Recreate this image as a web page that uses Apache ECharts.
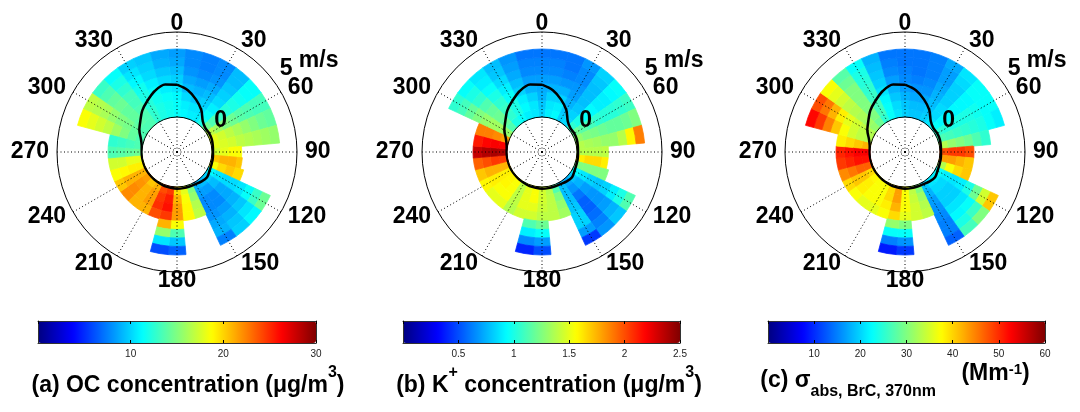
<!DOCTYPE html>
<html><head><meta charset="utf-8">
<script src="https://cdn.jsdelivr.net/npm/echarts@6/dist/echarts.min.js"></script>
<style>html,body{margin:0;padding:0;background:#fff}#c{width:1080px;height:412px}</style>
</head><body><div id="c"></div>
<script>
// wind direction bins (degrees, bin centres)
const directions = [0,10,20,30,40,50,60,70,80,90,100,110,120,130,140,150,160,170,180,190,200,210,220,230,240,250,260,270,280,290,300,310,320,330,340,350];
// wind-speed ring width (m/s)
const ringStep = 0.5;
// black contour (m/s) per direction
const windCurve = [1.9,1.63,1.22,0.8,0.3,0.12,0.13,0.12,0.08,0.06,0.08,0.1,0.15,0.25,0.2,0.12,0.1,0.1,0.1,0.08,0.08,0.05,0.04,0.03,0.03,0.02,0.02,0.02,0.05,0.2,0.5,0.76,1.12,1.42,1.76,1.97];

// maximum wind speed with data per direction (m/s)
const ocExtent  = [4,4,4,4,4,4,4,4,4,1.75,1.8,2,4,4,4,4,2,2,4,4,2,2,2,2,2,2,2,2,2,4,4,4,4,4,4,4];
const kExtent   = [4,4,4,4,4,4,4,4,4,1.85,1.85,2,4,4,4,4,2,2,4,4,2,2,2,2,2,2,2,2,2,2,4,4,4,4,4,4];
const absExtent = [4,4,4,4,4,4,4,4,3,2,2,2,4,4,4,4,2,2,4,4,2,2,2,2,2,2,2,2,2,4,4,4,4,4,4,4];

// OC concentration (ug/m3): rows = direction, cols = speed rings 0-0.5, 0.5-1, ...
const ocGrid = [
[11.4,11.4,11.1,10.5,9.9,9.3,8.7,8.4],
[11.1,10.8,10.2,9.3,8.7,8.1,7.8,7.8],
[10.8,10.5,9.6,9,8.4,7.8,7.5,7.5],
[10.8,10.5,9.9,9.3,8.7,8.1,7.8,7.8],
[12,11.4,10.8,10.2,9.9,9.6,9.3,9.3],
[14.4,13.5,12.9,12.3,12,11.7,11.4,11.4],
[16.8,15.9,15,14.4,13.8,13.5,13.2,13.2],
[18,17.4,16.8,16.2,15.6,15,14.4,14.1],
[18,17.7,17.4,16.8,16.5,16.2,15.9,15.6],
[17.4,18,18.6,18.6],
[20.4,21,21,20.4],
[18.6,19.8,20.4,19.8],
[11.1,10.5,10.2,10.2,10.5,11.4,12.9,14.4],
[9.9,9.3,8.7,8.7,9,9.6,10.5,11.1],
[9.3,8.4,7.8,7.8,8.4,9,9.6,9.9],
[9,8.4,7.8,7.8,8.1,8.7,9,7.5],
[15,15.6,16.5,16.8],
[18,18.6,18.9,18.9],
[19.8,21,21.6,21.6,18.6,13.5,9.6,6.6],
[24.6,25.5,25.8,24.6,21,15.6,10.5,6],
[24,24.6,24.9,24],
[21,21.6,21.6,21],
[20.4,21,21,21],
[21.6,21.9,22.2,22.2],
[21,21,21,20.4],
[19.2,19.2,18.9,18.6],
[18,18,17.4,17.4],
[14.4,14.1,13.8,13.5],
[13.5,13.2,12.9,12.6],
[13.5,14.1,15,15.9,16.8,17.4,18,18.6],
[13.5,14.1,14.7,15,15.6,16.2,16.5,16.8],
[13.5,13.8,14.1,14.1,14.4,14.1,13.5,12.9],
[13.5,13.5,13.5,13.2,13.2,12.6,12,11.4],
[12.6,12.6,12.3,12,11.7,11.1,10.5,9.9],
[12,12,11.7,11.4,10.8,10.2,9.9,9.6],
[11.7,11.7,11.4,10.8,10.2,9.6,9,8.7]
];

// K+ concentration (ug/m3)
const kGrid = [
[0.83,0.8,0.75,0.73,0.7,0.65,0.63,0.6],
[0.9,0.88,0.83,0.75,0.7,0.65,0.63,0.6],
[0.93,0.9,0.83,0.75,0.68,0.63,0.6,0.6],
[0.83,0.8,0.75,0.7,0.68,0.65,0.65,0.68],
[0.85,0.83,0.8,0.78,0.78,0.78,0.8,0.83],
[1.05,1,0.95,0.93,0.9,0.9,0.93,0.95],
[1.2,1.15,1.1,1.05,1.03,1.03,1.05,1.08],
[1.3,1.25,1.23,1.2,1.18,1.18,1.2,1.25],
[1.38,1.35,1.33,1.3,1.3,1.38,1.58,1.88],
[1.38,1.38,1.38,1.4],
[1.6,1.65,1.65,1.6],
[1.25,1.25,1.25,1.25],
[0.93,0.88,0.83,0.8,0.83,0.9,1,1.13],
[0.8,0.75,0.7,0.68,0.68,0.7,0.75,0.8],
[0.73,0.68,0.6,0.55,0.55,0.58,0.63,0.68],
[0.78,0.78,0.78,0.8,0.83,0.83,0.7,0.45],
[1.13,1.25,1.3,1.33],
[1.38,1.4,1.4,1.4],
[1.45,1.45,1.43,1.4,1.2,0.95,0.7,0.5],
[1.55,1.55,1.5,1.45,1.13,0.9,0.65,0.4],
[1.5,1.5,1.5,1.45],
[1.4,1.4,1.4,1.38],
[1.55,1.55,1.55,1.5],
[1.58,1.58,1.55,1.5],
[1.6,1.6,1.6,1.58],
[1.75,1.75,1.75,1.7],
[2.05,2.05,2,1.95],
[2.38,2.4,2.38,2.33],
[2.2,2.2,2.18,2.13],
[1.8,1.85,1.88,1.88],
[1.3,1.33,1.33,1.3,1.25,1.18,1.1,1.05],
[1.13,1.18,1.2,1.18,1.13,1.05,1,0.95],
[1,1.05,1.08,1.05,1,0.95,0.9,0.88],
[0.95,1,1,0.95,0.9,0.85,0.8,0.78],
[0.9,0.93,0.9,0.83,0.78,0.73,0.7,0.68],
[0.88,0.88,0.83,0.75,0.7,0.65,0.63,0.6]
];

// sigma_abs BrC 370nm (Mm-1)
const absGrid = [
[19.8,19.2,18,16.8,15.6,15,14.4,14.4],
[19.2,18.6,17.4,16.2,15,14.4,14.4,14.4],
[19.2,18.6,17.4,16.2,15.6,15,15,15],
[19.8,19.2,18.6,18,17.4,16.8,16.8,17.4],
[21,20.4,20.4,19.8,19.8,19.8,20.4,21],
[22.8,22.2,22.2,22.2,22.2,22.2,22.8,22.8],
[25.2,24.6,24,24,24,23.4,22.8,22.8],
[27,26.4,25.8,25.2,24.6,24,22.8,21.6],
[33,31.2,30,28.8,27,25.2],
[48,49.2,49.2,48],
[43.2,43.2,42,40.8],
[33,37.2,39.6,40.8],
[22.8,21.6,21,21.6,24,28.8,34.8,40.8],
[21.6,20.4,19.8,19.8,21,22.8,25.8,30],
[21,20.4,19.8,19.8,21,22.2,24,26.4],
[19.2,18,16.8,16.2,15.6,15,15,13.2],
[30,31.8,33,33.6],
[33.6,34.2,34.8,34.8],
[37.2,37.2,37.2,36,30,22.8,16.2,10.8],
[43.2,43.2,42,39.6,31.2,22.8,15,9],
[39.6,39.6,38.4,37.2],
[37.2,37.2,37.2,36],
[37.2,37.2,37.2,36],
[37.8,38.4,38.4,37.2],
[39.6,40.8,40.8,39.6],
[46.8,46.8,45.6,44.4],
[51.6,51.6,50.4,49.2],
[52.8,52.8,51.6,50.4],
[42,40.8,39.6,38.4],
[33,33.6,34.8,37.2,40.8,45,49.2,52.2],
[33,33.6,34.8,36,38.4,42,45.6,48],
[31.2,31.8,32.4,33,33.6,34.8,36,37.2],
[28.8,30,30,30,30,30,28.8,27.6],
[25.2,26.4,26.4,25.8,25.2,24.6,24,22.8],
[22.8,22.8,22.2,21,19.8,19.2,18.6,18],
[21,20.4,19.2,18,16.8,15.6,15,14.4]
];

// colour-bar ranges and tick steps
const ocRange = [0, 30],  ocStep = 10;
const kRange = [0, 2.5],  kStep = 0.5;
const absRange = [0, 60], absStep = 10;

const FONT = '"Liberation Sans", Arial, Helvetica, sans-serif';
const jet = ['#000080','#0000FF','#0080FF','#00FFFF','#80FF80','#FFFF00','#FF8000','#FF0000','#800000'];
const jetRGB = jet.map(h => [parseInt(h.slice(1,3),16), parseInt(h.slice(3,5),16), parseInt(h.slice(5,7),16)]);
function jetColor(v, range) {
  const t = Math.max(0, Math.min(1, (v - range[0]) / (range[1] - range[0])));
  const pos = t * (jetRGB.length - 1);
  const i = Math.min(Math.floor(pos), jetRGB.length - 2);
  const f = pos - i;
  const a = jetRGB[i], b = jetRGB[i + 1];
  return 'rgb(' + [0,1,2].map(j => Math.round(a[j] + (b[j] - a[j]) * f)).join(',') + ')';
}

const panels = [
  {grid: ocGrid, ext: ocExtent, range: ocRange, step: ocStep, cx: 177, barLeft: 38, barWidth: 278, titleX: 188,
   title: '{b|(a) OC concentration (μg/m}{s|3}{b|)}'},
  {grid: kGrid, ext: kExtent, range: kRange, step: kStep, cx: 542, barLeft: 403, barWidth: 277, titleX: 549,
   title: '{b|(b) K}{s|+}{b| concentration (μg/m}{s|3}{b|)}'},
  {grid: absGrid, ext: absExtent, range: absRange, step: absStep, cx: 905, barLeft: 768, barWidth: 277, titleX: 895,
   title: '{m|(c) σ}{d|abs, BrC, 370nm}{m|    }{h|(Mm}{s2|-1}{h|)}'}
];
const CY = 152;
const nRings = 8;

const option = {animation: false, polar: [], angleAxis: [], radiusAxis: [], series: [], visualMap: [], grid: [], xAxis: [], yAxis: [], graphic: []};

panels.forEach((P, p) => {
  const base = p * 3;
  // data polar: speed 0 at inner circle, 5 m/s at outer circle
  option.polar.push({center: [P.cx, CY], radius: [35, 120]});
  option.angleAxis.push({polarIndex: base, type: 'category', data: directions, startAngle: 95, clockwise: true, boundaryGap: true, z: 5,
    axisLine: {show: true, lineStyle: {color: '#000', width: 1}}, axisTick: {show: false}, axisLabel: {show: false}, splitLine: {show: false}, splitArea: {show: false}});
  option.radiusAxis.push({polarIndex: base, type: 'value', min: 0, max: 5, show: false});

  // spokes + direction labels
  option.polar.push({center: [P.cx, CY], radius: [0, 120]});
  option.angleAxis.push({polarIndex: base + 1, type: 'value', min: 0, max: 360, interval: 30, startAngle: 90, clockwise: true, z: 6,
    axisLine: {show: false}, axisTick: {show: false},
    axisLabel: {show: true, margin: 8, lineHeight: 1, fontSize: 23, fontWeight: 'bold', color: '#000', fontFamily: FONT,
      formatter: v => (v >= 360 ? '' : String(v))},
    splitLine: {show: true, lineStyle: {color: '#000', width: 1, type: [1, 2.5]}}});
  option.radiusAxis.push({polarIndex: base + 1, type: 'value', min: 0, max: 1, show: false});

  // speed labels
  option.polar.push({center: [P.cx, CY], radius: [49, 135]});
  option.angleAxis.push({polarIndex: base + 2, type: 'value', min: 0, max: 360, startAngle: 40.5, show: false});
  option.radiusAxis.push({polarIndex: base + 2, type: 'value', min: 0, max: 5, interval: 5, z: 6,
    axisLine: {show: false}, axisTick: {show: false}, splitLine: {show: false},
    axisLabel: {show: true, margin: 0, align: 'left', verticalAlign: 'middle', showMinLabel: true, showMaxLabel: true,
      formatter: v => (v === 5 ? '{n|5 }{u|m/s}' : '{n|0}'),
      rich: {n: {fontSize: 23, fontWeight: 'bold', fontFamily: FONT, color: '#000', verticalAlign: 'bottom'},
             u: {fontSize: 23, fontWeight: 'bold', fontFamily: FONT, color: '#000', verticalAlign: 'bottom', padding: [0, 0, 8, 0]}}}});

  const barIdx = [];
  for (let k = 0; k < nRings; k++) {
    barIdx.push(option.series.length);
    option.series.push({
      type: 'bar', coordinateSystem: 'polar', polarIndex: base, stack: 'rose' + p,
      barCategoryGap: '0%', barGap: '0%', encode: {radius: 0, angle: 1},
      emphasis: {disabled: true}, silent: true,
      data: directions.map((d, i) => {
        const lo = k * ringStep;
        const v = P.grid[i][k];
        if (lo >= P.ext[i] || v == null) return {value: ['-', i, '-']};
        const c = jetColor(v, P.range);
        return {value: [Math.min(ringStep, P.ext[i] - lo), i, v],
                itemStyle: {color: c, borderColor: c, borderWidth: 0.8}};
      })
    });
  }
  option.series.push({
    type: 'line', coordinateSystem: 'polar', polarIndex: base, encode: {radius: 0, angle: 1},
    data: windCurve.map((v, i) => [v, i]).concat([[windCurve[0], 0]]),
    symbol: 'none', smooth: 0.3, z: 4, silent: true,
    lineStyle: {color: '#000', width: 2.5}
  });

  option.visualMap.push({type: 'continuous', min: P.range[0], max: P.range[1], dimension: 2, seriesIndex: barIdx,
    orient: 'horizontal', left: P.barLeft, top: 321, itemWidth: 22, itemHeight: P.barWidth, calculable: false,
    padding: 0, hoverLink: false, inRange: {color: jet}, text: null, z: 4});

  // colour-bar frame and ticks
  option.grid.push({left: P.barLeft, top: 321, width: P.barWidth, height: 22, show: false});
  const xa = {gridIndex: p, type: 'value', min: P.range[0], max: P.range[1], interval: P.step, z: 6,
    axisLine: {show: true, onZero: false, lineStyle: {color: '#333', width: 1}},
    axisTick: {show: true, inside: true, length: 3, lineStyle: {color: '#000'}},
    splitLine: {show: false}};
  option.xAxis.push(Object.assign({}, xa, {position: 'bottom',
    axisLabel: {show: true, fontSize: 10, color: '#222', margin: 6, fontFamily: FONT, showMinLabel: false}}));
  option.xAxis.push(Object.assign({}, xa, {position: 'top', axisLabel: {show: false}}));
  const ya = {gridIndex: p, type: 'value', min: 0, max: 1, z: 6,
    axisLine: {show: true, onZero: false, lineStyle: {color: '#333', width: 1}},
    axisTick: {show: false}, axisLabel: {show: false}, splitLine: {show: false}};
  option.yAxis.push(Object.assign({}, ya, {position: 'left'}));
  option.yAxis.push(Object.assign({}, ya, {position: 'right'}));

  const tok = (size, pad) => ({fontSize: size, fontWeight: 'bold', fontFamily: FONT, fill: '#000', verticalAlign: 'bottom', padding: [0, 0, pad, 0]});
  option.graphic.push({type: 'text', x: P.titleX, y: p === 2 ? 400 : 397, silent: true,
    style: {text: P.title, align: 'center', verticalAlign: 'bottom', fill: '#000',
      font: 'bold 23px ' + FONT,
      rich: {b: tok(23, 0), s: tok(16, 16), m: tok(23, 8), d: tok(16, 0), h: tok(23, 15), s2: tok(15, 23)}}});
});

const chart = echarts.init(document.getElementById('c'), null, {renderer: 'canvas'});
chart.setOption(option);
</script>
</body></html>
